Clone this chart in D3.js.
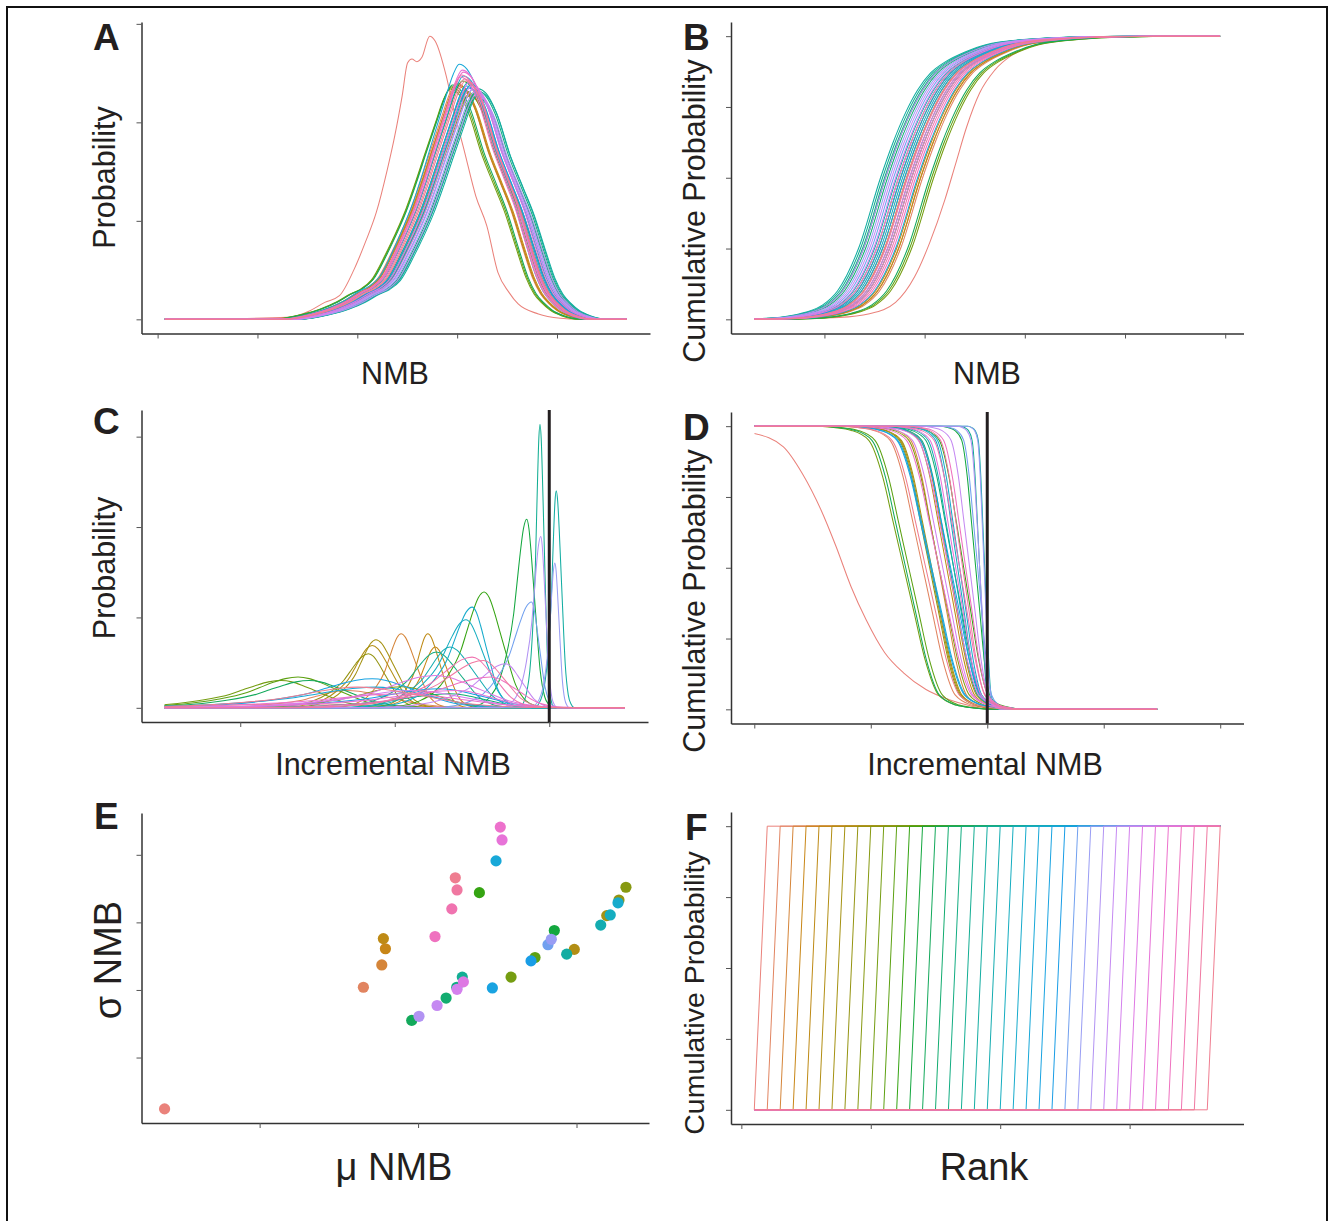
<!DOCTYPE html>
<html>
<head>
<meta charset="utf-8">
<script src="https://cdn.jsdelivr.net/npm/d3@7"></script>
<style>
  body { margin: 0; background: #fff; }
  text { font-family: "Liberation Sans", Arial, Helvetica, sans-serif; fill: #231f20; }
</style>
</head>
<body>
<script>
// ---- data (axis units = tick steps) ----

var nStrat = 36;

// A: NMB density. shared shape of the bundle (x offset from peak, fraction of peak)
var profileA_dx = [-1.8, -1.5, -1.3, -1.14, -1.0, -0.9, -0.79, -0.65, -0.55, -0.46, -0.36, -0.26, -0.15, -0.06, 0, 0.08, 0.18, 0.32, 0.44, 0.55, 0.66, 0.76, 0.84, 0.92, 1.0, 1.12, 1.3];
var profileA_v  = [0, 0.02, 0.045, 0.075, 0.11, 0.13, 0.17, 0.28, 0.37, 0.46, 0.58, 0.71, 0.85, 0.96, 1, 0.98, 0.9, 0.71, 0.58, 0.46, 0.31, 0.18, 0.11, 0.07, 0.04, 0.015, 0];
var peakA = [null, 2.99, 3.00, 3.01, 3.00, 3.09, 3.11, 3.12, 3.08, 2.93, 2.94, 3.05, 3.19, 2.95, 3.18, 3.20, 3.21, 3.22, 3.13, 3.10, 3.06, 3.02, 3.09, 3.11, 3.15, 3.17, 3.19, 3.16, 3.14, 3.12, 3.05, 3.06, 3.03, 3.04, 3.07, 3.08];
var topA  = [null, 2.40, 2.39, 2.38, 2.37, 2.30, 2.28, 2.27, 2.32, 2.34, 2.36, 2.42, 2.26, 2.38, 2.30, 2.32, 2.34, 2.31, 2.38, 2.40, 2.47, 2.59, 2.37, 2.35, 2.33, 2.31, 2.29, 2.35, 2.37, 2.41, 2.53, 2.51, 2.46, 2.48, 2.44, 2.42];
var redA_x = [0.07, 1.305, 1.526, 1.674, 1.821, 1.969, 2.08, 2.19, 2.301, 2.375, 2.449, 2.504, 2.547, 2.597, 2.647, 2.725, 2.781, 2.891, 2.965, 3.076, 3.186, 3.297, 3.408, 3.519, 3.611, 3.814, 4.035, 4.22, 4.70];
var redA_y = [0, 0.02, 0.088, 0.172, 0.24, 0.51, 0.781, 1.085, 1.523, 1.862, 2.267, 2.605, 2.643, 2.616, 2.66, 2.875, 2.824, 2.47, 2.131, 1.693, 1.254, 0.949, 0.477, 0.274, 0.156, 0.055, 0.011, 0, 0];
var extentA = [0.07, 4.70];

// B: cumulative NMB
var profileB_dx = [-1.6, -1.25, -0.95, -0.75, -0.58, -0.43, -0.22, 0, 0.12, 0.25, 0.37, 0.5, 0.65, 0.85, 1.05, 1.5, 1.9, 2.5];
var profileB_v  = [0, 0.002, 0.01, 0.025, 0.05, 0.1, 0.25, 0.5, 0.62, 0.73, 0.81, 0.87, 0.91, 0.945, 0.97, 0.99, 0.997, 1];
var midB = [null, 0.98, 0.96, 0.94, 0.96, 0.80, 0.76, 0.74, 0.82, 1.09, 1.07, 0.87, 0.61, 1.05, 0.63, 0.60, 0.58, 0.56, 0.72, 0.78, 0.85, 0.93, 0.80, 0.76, 0.69, 0.65, 0.61, 0.67, 0.71, 0.74, 0.87, 0.85, 0.91, 0.89, 0.83, 0.82];
var redB_x = [-0.70, 0.15, 0.45, 0.71, 0.90, 1.05, 1.20, 1.31, 1.42, 1.55, 1.70, 1.88, 2.07, 2.30, 2.60, 2.97, 3.95];
var redB_v = [0, 0.007, 0.02, 0.06, 0.15, 0.27, 0.42, 0.55, 0.68, 0.80, 0.88, 0.935, 0.965, 0.985, 0.997, 1, 1];
var extentB = [-0.70, 3.95];

// C: incremental NMB density (peak, height, half width left / right)
var profileC_t = [-4.5, -3.5, -2.8, -2.2, -1.6, -1, -0.75, -0.5, -0.25, 0, 0.25, 0.5, 0.75, 1, 1.5, 2, 2.5, 3];
var profileC_v = [0, 0.02, 0.06, 0.13, 0.27, 0.5, 0.66, 0.82, 0.95, 1, 0.95, 0.82, 0.66, 0.5, 0.2, 0.06, 0.015, 0];
var peakC  = [-1.617, -1.314, -0.959, -0.738, -0.786, -1.146, -1.122, -1.170, -0.955, -1.734, -1.626, -0.422, -0.146, -1.554, -0.643, -0.731, -0.060, 0.045, -0.643, -0.539, -0.499, -1.122, -1.146, -0.708, -0.115, 0.036, -0.055, -0.283, -0.882, -0.738, -0.595, -0.955, -0.379, -0.499, -0.427, -1.242];
var topC   = [0.044, 0.192, 0.82, 0.672, 0.82, 0.689, 0.753, 0.598, 0.233, 0.302, 0.34, 1.281, 2.086, 0.302, 0.156, 0.617, 3.138, 2.4, 0.672, 0.974, 1.114, 0.229, 0.322, 0.211, 1.17, 1.602, 1.896, 0.487, 0.192, 0.358, 0.192, 0.156, 0.34, 0.561, 0.524, 0.229];
var leftC  = [0.649, 0.26, 0.104, 0.097, 0.084, 0.143, 0.13, 0.162, 0.325, 0.33, 0.33, 0.149, 0.084, 0.34, 0.39, 0.182, 0.030, 0.032, 0.169, 0.175, 0.156, 0.519, 0.409, 0.455, 0.143, 0.036, 0.058, 0.214, 0.455, 0.39, 0.519, 0.584, 0.39, 0.26, 0.292, 0.455];
var rightC = [0.649, 0.325, 0.113, 0.097, 0.091, 0.143, 0.143, 0.13, 0.26, 0.273, 0.292, 0.136, 0.058, 0.292, 0.26, 0.182, 0.031, 0.039, 0.182, 0.136, 0.108, 0.39, 0.331, 0.325, 0.058, 0.032, 0.036, 0.123, 0.39, 0.325, 0.26, 0.455, 0.195, 0.169, 0.162, 0.481];
var extentC = [-2.49, 0.49];

// D: 1 - cumulative incremental NMB
var profileD_t = [-2.6, -2, -1.5, -1, -0.6, -0.3, 0, 0.3, 0.6, 1, 1.5, 2, 2.6];
var profileD_v = [1, 0.995, 0.985, 0.95, 0.82, 0.66, 0.5, 0.34, 0.18, 0.05, 0.015, 0.005, 0];
var midD = [null, -0.554, -0.417, -0.331, -0.348, -0.485, -0.477, -0.494, -0.413, -0.717, -0.674, -0.202, -0.099, -0.700, -0.288, -0.322, -0.065, -0.022, -0.288, -0.254, -0.237, -0.477, -0.485, -0.314, -0.082, -0.027, -0.065, -0.151, -0.382, -0.331, -0.271, -0.413, -0.185, -0.237, -0.211, -0.528];
var sprD = [null, 0.28, 0.24, 0.24, 0.24, 0.26, 0.26, 0.26, 0.26, 0.30, 0.29, 0.21, 0.12, 0.29, 0.24, 0.24, 0.065, 0.055, 0.22, 0.19, 0.19, 0.29, 0.29, 0.26, 0.12, 0.055, 0.075, 0.16, 0.26, 0.26, 0.22, 0.28, 0.19, 0.22, 0.19, 0.29];
var redD_x = [-2.0, -1.75, -1.588, -1.427, -1.298, -1.17, -1.041, -0.88, -0.719, -0.526, -0.332, -0.139, 0.02, 1.46];
var redD_v = [0.974, 0.927, 0.833, 0.704, 0.575, 0.434, 0.317, 0.2, 0.129, 0.07, 0.035, 0.012, 0, 0];
var extentD = [-2, 1.46];
var limitsD = [-2, 2];

// E: mean vs sd of NMB per strategy
var muE    = [-1.60, -0.345, -0.229, -0.206, -0.219, 0.986, 1.191, 1.268, 1.312, 0.587, 0.738, 0.387, 0.860, -0.040, 0.177, 0.244, 0.279, 0.938, 1.153, 1.213, 1.262, 0.492, 0.469, 0.713, 0.820, 0.841, 0.006, 0.120, 0.246, 0.286, 0.530, 0.519, 0.107, 0.213, 0.246, 0.235];
var sigmaE = [0.24, 2.04, 2.37, 2.61, 2.76, 2.60, 3.10, 3.33, 3.52, 2.19, 2.48, 3.44, 2.88, 1.55, 1.88, 2.04, 2.19, 2.53, 2.96, 3.11, 3.29, 3.91, 2.03, 2.43, 2.67, 2.75, 1.61, 1.77, 2.01, 2.12, 4.22, 4.41, 2.79, 3.20, 3.48, 3.66];

// F: rank at which each strategy's cumulative probability jumps
var rankF = [1, 2, 3, 4, 5, 6, 7, 8, 9, 10, 11, 12, 13, 14, 15, 16, 17, 18, 19, 20, 21, 22, 23, 24, 25, 26, 27, 28, 29, 30, 31, 32, 33, 34, 35, 36];
var rankRange = [1, 37];

// tick positions (no labels on the figure)
var ticksA_x = [0, 1, 2, 3, 4], ticksA_y = [0, 1, 2, 3];
var ticksB_x = [0, 1, 2, 3, 4], ticksB_y = [0, 0.25, 0.5, 0.75, 1];
var ticksC_x = [-2, -1, 0],     ticksC_y = [0, 1, 2, 3];
var ticksD_x = [-2, -1, 0, 1, 2], ticksD_y = [0, 0.25, 0.5, 0.75, 1];
var ticksE_x = [-1, 0, 1],      ticksE_y = [1, 2, 3, 4];
var ticksF_x = [0, 10, 20, 30], ticksF_y = [0, 0.25, 0.5, 0.75, 1];
var refLineX = 0;

// ---- helpers ----

// ggplot style hue palette (polar Luv, l=65, c=100), toned down like the printed figure
function hueColor(i, n) {
  var h = 15 + 360 * i / n, l = 65, c = 100;
  var hr = h * Math.PI / 180, U = c * Math.cos(hr), V = c * Math.sin(hr);
  var Y = Math.pow((l + 16) / 116, 3);
  var un = 0.19784, vn = 0.46834;
  var u = U / (13 * l) + un, v = V / (13 * l) + vn;
  var X = 9 * Y * u / (4 * v), Z = -X / 3 - 5 * Y + 3 * Y / v;
  var rgb = [3.2404542 * X - 1.5371385 * Y - 0.4985314 * Z,
            -0.9692660 * X + 1.8760108 * Y + 0.0415560 * Z,
             0.0556434 * X - 0.2040259 * Y + 1.0572252 * Z].map(function(q) {
    q = q <= 0.0031308 ? 12.92 * q : 1.055 * Math.pow(q, 1 / 2.4) - 0.055;
    return Math.round(255 * Math.max(0, Math.min(1, q)));
  });
  var hsl = d3.hsl(d3.rgb(rgb[0], rgb[1], rgb[2]));
  hsl.s *= 0.8;
  return hsl.formatHex();
}
var colors = d3.range(nStrat).map(function(i) { return hueColor(i, nStrat); });

function expand(ext) {
  var d = ext[1] - ext[0];
  return [ext[0] - 0.05 * d, ext[1] + 0.05 * d];
}

var svg = d3.select("body").append("svg")
    .attr("width", 1330)
    .attr("height", 1221);

svg.append("rect")
    .attr("x", 7).attr("y", 7).attr("width", 1320).attr("height", 1225)
    .attr("fill", "none").attr("stroke", "#111").attr("stroke-width", 2);

var defs = svg.append("defs");

function makePanel(id, frame, xDom, yDom, xTicks, yTicks) {
  var x = d3.scaleLinear().domain(xDom).range([frame[0], frame[1]]);
  var y = d3.scaleLinear().domain(yDom).range([frame[3], frame[2]]);
  var g = svg.append("g").attr("id", "panel" + id);

  var ax = g.append("g")
      .attr("transform", "translate(0," + frame[3] + ")")
      .call(d3.axisBottom(x).tickValues(xTicks).tickFormat("").tickSize(5).tickSizeOuter(0));
  var ay = g.append("g")
      .attr("transform", "translate(" + frame[0] + ",0)")
      .call(d3.axisLeft(y).tickValues(yTicks).tickFormat("").tickSize(5).tickSizeOuter(0));
  [ax, ay].forEach(function(a) {
    a.select(".domain").attr("stroke", "#333").attr("stroke-width", 1.5);
    a.selectAll(".tick line").attr("stroke", "#555").attr("stroke-width", 1);
  });
  return { g: g, x: x, y: y, frame: frame, id: id };
}

function clipFor(p, ext) {
  var cid = "clip" + p.id;
  defs.append("clipPath").attr("id", cid)
    .append("rect")
      .attr("x", p.x(ext[0])).attr("y", p.frame[2] - 5)
      .attr("width", p.x(ext[1]) - p.x(ext[0]))
      .attr("height", p.frame[3] - p.frame[2] + 10);
  return cid;
}

function drawLine(p, pts, color, cid) {
  var line = d3.line()
      .x(function(d) { return p.x(d[0]); })
      .y(function(d) { return p.y(d[1]); })
      .curve(d3.curveMonotoneX);
  var path = p.g.append("path")
      .datum(pts)
      .attr("d", line)
      .attr("fill", "none")
      .attr("stroke", color)
      .attr("stroke-width", 1.05);
  if (cid) path.attr("clip-path", "url(#" + cid + ")");
}

// profile placed at a centre with separate left / right scale, padded flat to the extent
function placeProfile(tArr, vArr, centre, sLeft, sRight, ext) {
  var pts = tArr.map(function(t, k) {
    return [centre + t * (t < 0 ? sLeft : sRight), vArr[k]];
  });
  if (pts[0][0] > ext[0]) pts.unshift([ext[0], pts[0][1]]);
  if (pts[pts.length - 1][0] < ext[1]) pts.push([ext[1], pts[pts.length - 1][1]]);
  return pts;
}

function zipXY(xs, ys) {
  return xs.map(function(v, k) { return [v, ys[k]]; });
}

function label(x, y, txt, size, opts) {
  opts = opts || {};
  var t = svg.append("text")
      .attr("x", x).attr("y", y)
      .attr("font-size", size)
      .attr("text-anchor", opts.anchor || "middle")
      .text(txt);
  if (opts.bold) t.attr("font-weight", "bold");
  if (opts.rotate) t.attr("transform", "rotate(-90," + x + "," + y + ")");
  return t;
}

// ---- panel A ----
var maxA = d3.max(redA_y.concat(topA.filter(function(d) { return d != null; })));
var pA = makePanel("A", [141.5, 650, 22, 333.5], expand(extentA), expand([0, maxA]), ticksA_x, ticksA_y);
var cA = clipFor(pA, extentA);
d3.range(nStrat).forEach(function(i) {
  var pts;
  if (i === 0) pts = zipXY(redA_x, redA_y);
  else pts = placeProfile(profileA_dx, profileA_v.map(function(v) { return v * topA[i]; }), peakA[i], 1, 1, extentA);
  drawLine(pA, pts, colors[i], cA);
});

// ---- panel B ----
var pB = makePanel("B", [731, 1243.5, 22, 333.5], expand(extentB), expand([0, 1]), ticksB_x, ticksB_y);
var cB = clipFor(pB, extentB);
d3.range(nStrat).forEach(function(i) {
  var pts;
  if (i === 0) pts = zipXY(redB_x, redB_v);
  else pts = placeProfile(profileB_dx, profileB_v, midB[i], 1, 1, extentB);
  drawLine(pB, pts, colors[i], cB);
});

// ---- panel C ----
var pC = makePanel("C", [141.5, 648, 410, 722], expand(extentC), expand([0, d3.max(topC)]), ticksC_x, ticksC_y);
var cC = clipFor(pC, extentC);
d3.range(nStrat).forEach(function(i) {
  var pts = placeProfile(profileC_t, profileC_v.map(function(v) { return v * topC[i]; }),
                         peakC[i], leftC[i], rightC[i], extentC);
  drawLine(pC, pts, colors[i], cC);
});
pC.g.append("line")
    .attr("x1", pC.x(refLineX)).attr("x2", pC.x(refLineX))
    .attr("y1", 410).attr("y2", 722)
    .attr("stroke", "#231f20").attr("stroke-width", 3);

// ---- panel D ----
var pD = makePanel("D", [731, 1243.5, 412, 723.5], expand(limitsD), expand([0, 1]), ticksD_x, ticksD_y);
var cD = clipFor(pD, extentD);
d3.range(nStrat).forEach(function(i) {
  var pts;
  if (i === 0) pts = zipXY(redD_x, redD_v);
  else pts = placeProfile(profileD_t, profileD_v, midD[i], sprD[i], sprD[i], extentD);
  drawLine(pD, pts, colors[i], cD);
});
pD.g.append("line")
    .attr("x1", pD.x(refLineX)).attr("x2", pD.x(refLineX))
    .attr("y1", 412).attr("y2", 723.5)
    .attr("stroke", "#231f20").attr("stroke-width", 3);

// ---- panel E ----
var pE = makePanel("E", [141.5, 649, 813, 1123], expand(d3.extent(muE)), expand(d3.extent(sigmaE)), ticksE_x, ticksE_y);
pE.g.selectAll(".dot")
    .data(d3.range(nStrat))
  .enter().append("circle")
    .attr("class", "dot")
    .attr("cx", function(i) { return pE.x(muE[i]); })
    .attr("cy", function(i) { return pE.y(sigmaE[i]); })
    .attr("r", 5.6)
    .attr("fill", function(i) { return colors[i]; });

// ---- panel F ----
var pF = makePanel("F", [731, 1243.5, 812, 1124], expand(rankRange), expand([0, 1]), ticksF_x, ticksF_y);
d3.range(nStrat).forEach(function(i) {
  var r = rankF[i];
  var pts = [[rankRange[0], 0], [r, 0], [r + 1, 1], [rankRange[1], 1]];
  pF.g.append("path")
      .datum(pts)
      .attr("d", d3.line().x(function(d) { return pF.x(d[0]); }).y(function(d) { return pF.y(d[1]); }))
      .attr("fill", "none")
      .attr("stroke", colors[i])
      .attr("stroke-width", 1);
});

// ---- text ----
label(93, 50, "A", 37, { anchor: "start", bold: true });
label(683, 50, "B", 37, { anchor: "start", bold: true });
label(93, 434, "C", 37, { anchor: "start", bold: true });
label(683, 440, "D", 37, { anchor: "start", bold: true });
label(94, 829, "E", 37, { anchor: "start", bold: true });
label(685, 840, "F", 37, { anchor: "start", bold: true });

label(395, 384, "NMB", 30.5);
label(987, 384, "NMB", 30.5);
label(393, 775, "Incremental NMB", 30.5);
label(985, 775, "Incremental NMB", 30.5);
label(394, 1180, "\u03bc NMB", 38);
label(984, 1180, "Rank", 38);

label(115, 177.5, "Probability", 30.5, { rotate: true });
label(705, 211, "Cumulative Probability", 30.5, { rotate: true });
label(115, 568, "Probability", 30.5, { rotate: true });
label(705, 601, "Cumulative Probability", 30.5, { rotate: true });
label(121, 960, "\u03c3 NMB", 38, { rotate: true });
label(704, 993, "Cumulative Probability", 28.5, { rotate: true });
</script>
</body>
</html>
